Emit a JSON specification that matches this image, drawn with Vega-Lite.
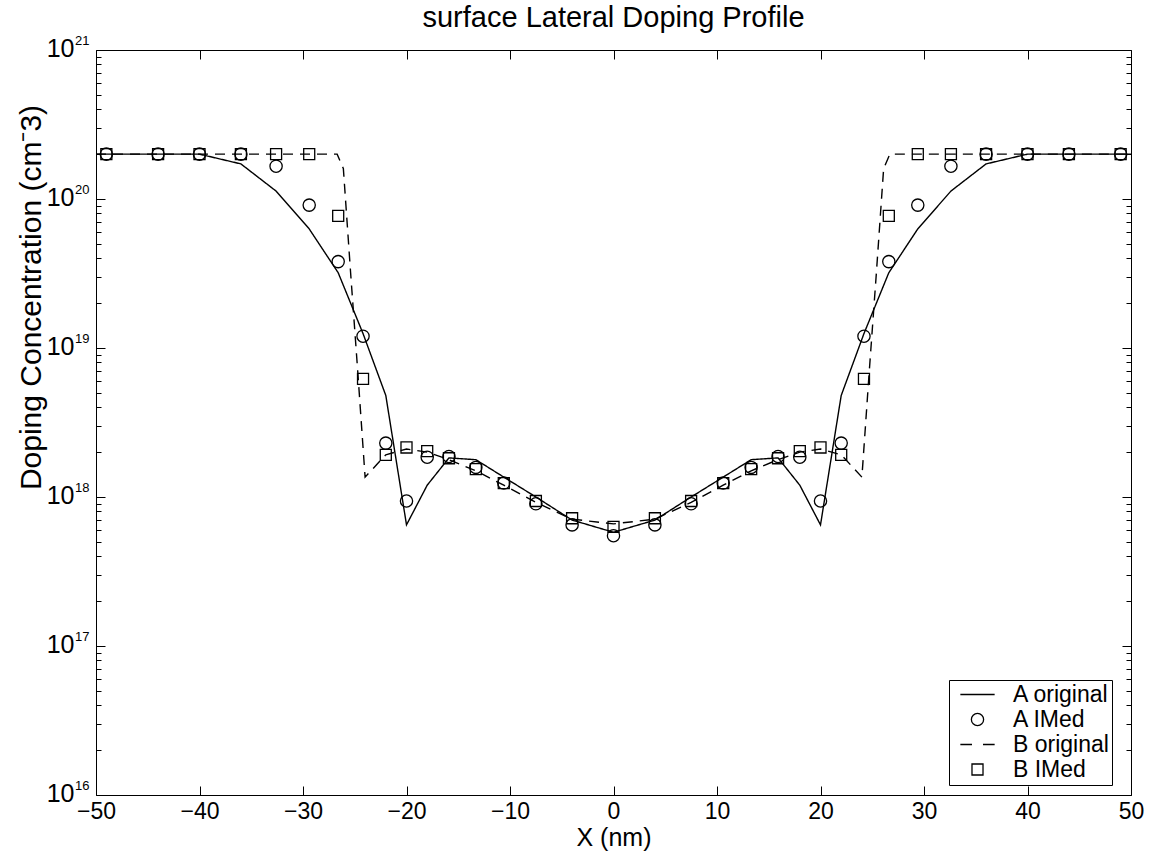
{
  "$schema": "https://vega.github.io/schema/vega-lite/v6.json",
  "autosize": "none",
  "padding": {"left": 96, "top": 50, "right": 22, "bottom": 64},
  "width": 1035,
  "height": 745,
  "background": "white",
  "config": {"font": "Liberation Sans", "view": {"stroke": null}},
  "title": {"text": "surface Lateral Doping Profile", "fontSize": 29, "fontWeight": "normal", "color": "black", "offset": 1, "anchor": "middle"},
  "datasets": {
    "orig": [
      {"series": "A original", "x": -50, "y": 2e20},
      {"series": "A original", "x": -40, "y": 2e20},
      {"series": "A original", "x": -36, "y": 1.72e20},
      {"series": "A original", "x": -32.6, "y": 1.13e20},
      {"series": "A original", "x": -29.4, "y": 6.3e19},
      {"series": "A original", "x": -26.6, "y": 3.2e19},
      {"series": "A original", "x": -24.2, "y": 1.25e19},
      {"series": "A original", "x": -22, "y": 4.8e18},
      {"series": "A original", "x": -20, "y": 6.5e17},
      {"series": "A original", "x": -18, "y": 1.2e18},
      {"series": "A original", "x": -15.9, "y": 1.83e18},
      {"series": "A original", "x": -13.3, "y": 1.78e18},
      {"series": "A original", "x": -10.6, "y": 1.36e18},
      {"series": "A original", "x": -7.5, "y": 1.0e18},
      {"series": "A original", "x": -4, "y": 7.0e17},
      {"series": "A original", "x": 0, "y": 5.8e17},
      {"series": "A original", "x": 4, "y": 7.0e17},
      {"series": "A original", "x": 7.5, "y": 1.0e18},
      {"series": "A original", "x": 10.6, "y": 1.36e18},
      {"series": "A original", "x": 13.3, "y": 1.78e18},
      {"series": "A original", "x": 15.9, "y": 1.83e18},
      {"series": "A original", "x": 18, "y": 1.2e18},
      {"series": "A original", "x": 20, "y": 6.5e17},
      {"series": "A original", "x": 22, "y": 4.8e18},
      {"series": "A original", "x": 24.2, "y": 1.25e19},
      {"series": "A original", "x": 26.6, "y": 3.2e19},
      {"series": "A original", "x": 29.4, "y": 6.3e19},
      {"series": "A original", "x": 32.6, "y": 1.13e20},
      {"series": "A original", "x": 36, "y": 1.72e20},
      {"series": "A original", "x": 40, "y": 2e20},
      {"series": "A original", "x": 50, "y": 2e20},
      {"series": "B original", "x": -50, "y": 2e20},
      {"series": "B original", "x": -26.7, "y": 2e20},
      {"series": "B original", "x": -26.1, "y": 1.6e20},
      {"series": "B original", "x": -25.4, "y": 3.2e19},
      {"series": "B original", "x": -24.7, "y": 6.8e18},
      {"series": "B original", "x": -24.0, "y": 1.36e18},
      {"series": "B original", "x": -22, "y": 1.92e18},
      {"series": "B original", "x": -20, "y": 2.1e18},
      {"series": "B original", "x": -18, "y": 2.0e18},
      {"series": "B original", "x": -15.9, "y": 1.78e18},
      {"series": "B original", "x": -13.3, "y": 1.5e18},
      {"series": "B original", "x": -10.6, "y": 1.2e18},
      {"series": "B original", "x": -7.5, "y": 9.2e17},
      {"series": "B original", "x": -4, "y": 7.1e17},
      {"series": "B original", "x": 0, "y": 6.6e17},
      {"series": "B original", "x": 4, "y": 7.1e17},
      {"series": "B original", "x": 7.5, "y": 9.2e17},
      {"series": "B original", "x": 10.6, "y": 1.2e18},
      {"series": "B original", "x": 13.3, "y": 1.5e18},
      {"series": "B original", "x": 15.9, "y": 1.78e18},
      {"series": "B original", "x": 18, "y": 2.0e18},
      {"series": "B original", "x": 20, "y": 2.1e18},
      {"series": "B original", "x": 22, "y": 1.92e18},
      {"series": "B original", "x": 24.0, "y": 1.36e18},
      {"series": "B original", "x": 24.7, "y": 6.8e18},
      {"series": "B original", "x": 25.4, "y": 3.2e19},
      {"series": "B original", "x": 26.1, "y": 1.6e20},
      {"series": "B original", "x": 26.7, "y": 2e20},
      {"series": "B original", "x": 50, "y": 2e20}
    ],
    "imed": [
      {"series": "A IMed", "x": -49, "y": 2e20},
      {"series": "A IMed", "x": -44, "y": 2e20},
      {"series": "A IMed", "x": -40, "y": 2e20},
      {"series": "A IMed", "x": -36, "y": 2e20},
      {"series": "A IMed", "x": -32.6, "y": 1.66e20},
      {"series": "A IMed", "x": -29.4, "y": 9.1e19},
      {"series": "A IMed", "x": -26.6, "y": 3.8e19},
      {"series": "A IMed", "x": -24.2, "y": 1.2e19},
      {"series": "A IMed", "x": -22, "y": 2.3e18},
      {"series": "A IMed", "x": -20, "y": 9.4e17},
      {"series": "A IMed", "x": -18, "y": 1.85e18},
      {"series": "A IMed", "x": -15.9, "y": 1.87e18},
      {"series": "A IMed", "x": -13.3, "y": 1.58e18},
      {"series": "A IMed", "x": -10.6, "y": 1.24e18},
      {"series": "A IMed", "x": -7.5, "y": 9.0e17},
      {"series": "A IMed", "x": -4, "y": 6.5e17},
      {"series": "A IMed", "x": 0, "y": 5.5e17},
      {"series": "A IMed", "x": 4, "y": 6.5e17},
      {"series": "A IMed", "x": 7.5, "y": 9.0e17},
      {"series": "A IMed", "x": 10.6, "y": 1.24e18},
      {"series": "A IMed", "x": 13.3, "y": 1.58e18},
      {"series": "A IMed", "x": 15.9, "y": 1.87e18},
      {"series": "A IMed", "x": 18, "y": 1.85e18},
      {"series": "A IMed", "x": 20, "y": 9.4e17},
      {"series": "A IMed", "x": 22, "y": 2.3e18},
      {"series": "A IMed", "x": 24.2, "y": 1.2e19},
      {"series": "A IMed", "x": 26.6, "y": 3.8e19},
      {"series": "A IMed", "x": 29.4, "y": 9.1e19},
      {"series": "A IMed", "x": 32.6, "y": 1.66e20},
      {"series": "A IMed", "x": 36, "y": 2e20},
      {"series": "A IMed", "x": 40, "y": 2e20},
      {"series": "A IMed", "x": 44, "y": 2e20},
      {"series": "A IMed", "x": 49, "y": 2e20},
      {"series": "B IMed", "x": -49, "y": 2e20},
      {"series": "B IMed", "x": -44, "y": 2e20},
      {"series": "B IMed", "x": -40, "y": 2e20},
      {"series": "B IMed", "x": -36, "y": 2e20},
      {"series": "B IMed", "x": -32.6, "y": 2e20},
      {"series": "B IMed", "x": -29.4, "y": 2e20},
      {"series": "B IMed", "x": -26.6, "y": 7.7e19},
      {"series": "B IMed", "x": -24.2, "y": 6.2e18},
      {"series": "B IMed", "x": -22, "y": 1.92e18},
      {"series": "B IMed", "x": -20, "y": 2.15e18},
      {"series": "B IMed", "x": -18, "y": 2.03e18},
      {"series": "B IMed", "x": -15.9, "y": 1.82e18},
      {"series": "B IMed", "x": -13.3, "y": 1.54e18},
      {"series": "B IMed", "x": -10.6, "y": 1.24e18},
      {"series": "B IMed", "x": -7.5, "y": 9.4e17},
      {"series": "B IMed", "x": -4, "y": 7.2e17},
      {"series": "B IMed", "x": 0, "y": 6.3e17},
      {"series": "B IMed", "x": 4, "y": 7.2e17},
      {"series": "B IMed", "x": 7.5, "y": 9.4e17},
      {"series": "B IMed", "x": 10.6, "y": 1.24e18},
      {"series": "B IMed", "x": 13.3, "y": 1.54e18},
      {"series": "B IMed", "x": 15.9, "y": 1.82e18},
      {"series": "B IMed", "x": 18, "y": 2.03e18},
      {"series": "B IMed", "x": 20, "y": 2.15e18},
      {"series": "B IMed", "x": 22, "y": 1.92e18},
      {"series": "B IMed", "x": 24.2, "y": 6.2e18},
      {"series": "B IMed", "x": 26.6, "y": 7.7e19},
      {"series": "B IMed", "x": 29.4, "y": 2e20},
      {"series": "B IMed", "x": 32.6, "y": 2e20},
      {"series": "B IMed", "x": 36, "y": 2e20},
      {"series": "B IMed", "x": 40, "y": 2e20},
      {"series": "B IMed", "x": 44, "y": 2e20},
      {"series": "B IMed", "x": 49, "y": 2e20}
    ]
  },
  "resolve": {"axis": {"x": "independent", "y": "independent"}},
  "layer": [
    {
      "data": {"name": "orig"},
      "mark": {"type": "line", "color": "black", "strokeWidth": 1.4},
      "encoding": {
        "x": {
          "field": "x", "type": "quantitative",
          "scale": {"domain": [-50, 50], "nice": false, "zero": false},
          "axis": {
            "orient": "bottom", "values": [-50, -40, -30, -20, -10, 0, 10, 20, 30, 40, 50],
            "grid": false, "tickSize": -9, "tickColor": "black", "domainColor": "black",
            "labelColor": "black", "labelFontSize": 23, "labelPadding": 14, "labelFlush": false,
            "title": "X (nm)", "titleFontSize": 25, "titleFontWeight": "normal", "titleColor": "black", "titlePadding": 2
          }
        },
        "y": {
          "field": "y", "type": "quantitative",
          "scale": {"type": "log", "domain": [1e16, 1e21], "nice": false},
          "axis": {
            "orient": "left",
            "values": [1e16, 2e16, 3e16, 4e16, 5e16, 6e16, 7e16, 8e16, 9e16, 1e17, 2e17, 3e17, 4e17, 5e17, 6e17, 7e17, 8e17, 9e17, 1e18, 2e18, 3e18, 4e18, 5e18, 6e18, 7e18, 8e18, 9e18, 1e19, 2e19, 3e19, 4e19, 5e19, 6e19, 7e19, 8e19, 9e19, 1e20, 2e20, 3e20, 4e20, 5e20, 6e20, 7e20, 8e20, 9e20, 1e21],
            "labelExpr": "(datum.value == 1e16 || datum.value == 1e17 || datum.value == 1e18 || datum.value == 1e19 || datum.value == 1e20 || datum.value == 1e21) ? '10' : ''",
            "grid": false,
            "tickSize": {"condition": {"test": "datum.value == 1e16 || datum.value == 1e17 || datum.value == 1e18 || datum.value == 1e19 || datum.value == 1e20 || datum.value == 1e21", "value": -9}, "value": -5},
            "tickColor": "black", "domainColor": "black",
            "labelColor": "black", "labelFontSize": 25, "labelPadding": 31, "labelFlush": false,
            "labelOverlap": false, "labelOffset": -2,
            "title": "Doping Concentration (cm⁻3)", "titleFontSize": 30, "titleFontWeight": "normal", "titleColor": "black", "titlePadding": 0, "titleY": 247
          }
        },
        "strokeDash": {
          "field": "series", "type": "nominal",
          "scale": {"domain": ["A original", "B original"], "range": [[1, 0], [10, 7]]},
          "legend": null
        }
      }
    },
    {
      "data": {"name": "imed"},
      "mark": {"type": "point", "filled": false, "color": "black", "strokeWidth": 1.3, "opacity": 1, "size": 150},
      "encoding": {
        "x": {"field": "x", "type": "quantitative", "axis": null},
        "y": {"field": "y", "type": "quantitative", "axis": null},
        "shape": {
          "field": "series", "type": "nominal",
          "scale": {
            "domain": ["A original", "A IMed", "B original", "B IMed"],
            "range": ["M-2.8,0H2.8", "M1,0A1,1,0,1,1,-1,0A1,1,0,1,1,1,0Z", "M-2.8,0H-0.9M0.9,0H2.8", "M-0.9,-0.9H0.9V0.9H-0.9Z"]
          },
          "legend": {
            "orient": "none", "legendX": 853, "legendY": 630, "title": null,
            "strokeColor": "black", "fillColor": "white", "padding": 3,
            "labelFontSize": 23, "labelColor": "black", "symbolSize": 150,
            "symbolStrokeColor": "black", "symbolStrokeWidth": 1.3,
            "symbolOffset": 14, "rowPadding": 1, "labelOffset": 24
          }
        }
      }
    },
    {
      "data": {"name": "orig"},
      "mark": {"type": "point", "opacity": 0},
      "encoding": {
        "x": {
          "field": "x", "type": "quantitative",
          "axis": {"orient": "top", "values": [-50, -40, -30, -20, -10, 0, 10, 20, 30, 40, 50], "labels": false, "title": null, "grid": false, "tickSize": -9, "tickColor": "black", "domainColor": "black"}
        },
        "y": {
          "field": "y", "type": "quantitative",
          "axis": {
            "orient": "right", "labels": false, "title": null, "grid": false,
            "values": [1e16, 2e16, 3e16, 4e16, 5e16, 6e16, 7e16, 8e16, 9e16, 1e17, 2e17, 3e17, 4e17, 5e17, 6e17, 7e17, 8e17, 9e17, 1e18, 2e18, 3e18, 4e18, 5e18, 6e18, 7e18, 8e18, 9e18, 1e19, 2e19, 3e19, 4e19, 5e19, 6e19, 7e19, 8e19, 9e19, 1e20, 2e20, 3e20, 4e20, 5e20, 6e20, 7e20, 8e20, 9e20, 1e21],
            "tickSize": {"condition": {"test": "datum.value == 1e16 || datum.value == 1e17 || datum.value == 1e18 || datum.value == 1e19 || datum.value == 1e20 || datum.value == 1e21", "value": -9}, "value": -5},
            "tickColor": "black", "domainColor": "black"
          }
        }
      }
    },
    {
      "data": {"name": "orig"},
      "mark": {"type": "point", "opacity": 0},
      "encoding": {
        "x": {"field": "x", "type": "quantitative", "axis": null},
        "y": {
          "field": "y", "type": "quantitative",
          "axis": {
            "orient": "left", "title": null, "grid": false, "ticks": false, "domain": false,
            "values": [1e16, 1e17, 1e18, 1e19, 1e20, 1e21],
            "labelExpr": "datum.value == 1e16 ? '16' : datum.value == 1e17 ? '17' : datum.value == 1e18 ? '18' : datum.value == 1e19 ? '19' : datum.value == 1e20 ? '20' : '21'",
            "labelColor": "black", "labelFontSize": 13, "labelPadding": 7, "labelOffset": -10, "labelFlush": false, "labelOverlap": false
          }
        }
      }
    }
  ]
}
